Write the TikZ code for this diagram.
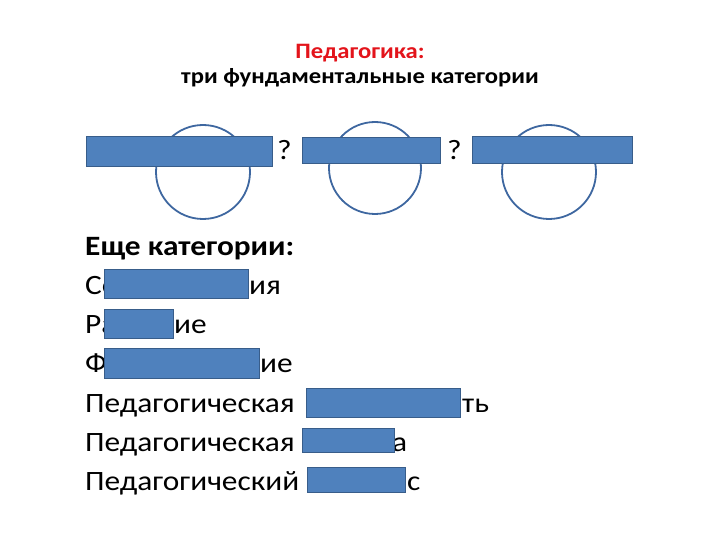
\documentclass[tikz,border=0pt]{standalone}
\usepackage{fontspec}
\setmainfont{Carlito}[FakeStretch=1.12]
\definecolor{maskblue}{HTML}{4F81BD}
\definecolor{maskline}{HTML}{385D8A}
\definecolor{ringblue}{HTML}{3E67A0}
\definecolor{titlered}{HTML}{E3141B}
\tikzset{
  mask/.style={fill=maskblue, draw=maskline, line width=0.8pt},
  ring/.style={draw=ringblue, line width=1.8pt},
  entry/.style={anchor=base west, inner sep=0pt, font=\fontsize{28}{34}\selectfont},
  heading/.style={anchor=base, inner sep=0pt, font=\bfseries\fontsize{22}{26}\selectfont},
}
\begin{document}
\begin{tikzpicture}[x=1pt,y=-1pt]
\useasboundingbox (0,0) rectangle (720,540);
% title
\node[heading, text=titlered] (title) at (360,59) {Педагогика:};
\node[heading] (subtitle) at (360,84) {три фундаментальные категории};
% three categories
\draw[ring] (203,172) circle (47pt);
\draw[ring] (375,168) circle (46pt);
\draw[ring] (549,172) circle (47pt);
\draw[mask] (86,136) rectangle (272,166);
\draw[mask] (302,137) rectangle (440,163);
\draw[mask] (472,136) rectangle (632,163);
\node[entry] (q1) at (277,160) {?};
\node[entry] (q2) at (447,160) {?};
% more categories
\node[entry, font=\bfseries\fontsize{28}{34}\selectfont] (more) at (85,255) {Еще категории:};
\node[entry] (soc) at (85,294) {Со};
\node[entry] (socend) at (249,294) {ия};
\node[entry] (raz) at (85,333) {Ра};
\node[entry] (razend) at (174,333) {ие};
\node[entry] (form) at (85,372) {Ф};
\node[entry] (formend) at (260,372) {ие};
\node[entry] (act) at (85,412) {Педагогическая};
\node[entry] (actend) at (462,412) {ть};
\node[entry] (sys) at (85,451) {Педагогическая};
\node[entry] (sysend) at (392,451) {а};
\node[entry] (proc) at (85,490) {Педагогический};
\node[entry] (procend) at (407,490) {с};
\draw[mask] (104,269) rectangle (248,298);
\draw[mask] (104,309) rectangle (173,338);
\draw[mask] (104,348) rectangle (259,378);
\draw[mask] (306,388) rectangle (460,417);
\draw[mask] (302,428) rectangle (394,452);
\draw[mask] (307,467) rectangle (405,492);
\end{tikzpicture}
\end{document}
